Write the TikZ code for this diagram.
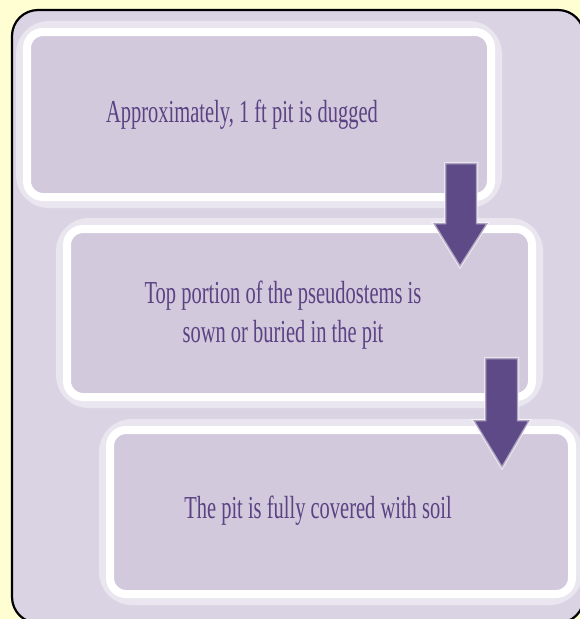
\documentclass[tikz,border=0pt]{standalone}
\usepackage{fontspec}
\usepackage{tikz}
\newfontfamily\stepfont[FakeStretch=0.64]{Liberation Serif}
\definecolor{paper}{HTML}{FFFDD2}
\definecolor{framefill}{HTML}{D9D3E3}
\definecolor{boxfill}{HTML}{D2C9DC}
\definecolor{steptext}{HTML}{5A4283}
\definecolor{arrowfill}{HTML}{5E4A86}
\tikzset{
  glow/.style={draw=white, draw opacity=0.45, line width=22pt, rounded corners=22pt},
  stepbox/.style={fill=boxfill, draw=white, line width=8pt, rounded corners=16pt},
  steplabel/.style={text=steptext, font=\stepfont\fontsize{32}{39}\selectfont, anchor=base, inner sep=0pt, align=center},
  downarrow/.style={fill=arrowfill, draw=white, draw opacity=0.5, line width=2.5pt, line join=miter}
}
\begin{document}
\begin{tikzpicture}[x=1pt, y=-1pt]
                \useasboundingbox (0,0) rectangle (580,619);
                % Draw the background
                \fill[paper] (0,0) rectangle (580,619);
                \draw[fill=framefill, line width=2.2pt, rounded corners=26pt] (12,10) rectangle (584,623);
                % Draw the boxes
                \draw[glow] (27,32) rectangle (491,197);
                \draw[stepbox] (27,32) rectangle (491,197);
                \draw[glow] (67,229) rectangle (532,397);
                \draw[stepbox] (67,229) rectangle (532,397);
                \draw[glow] (110,430) rectangle (572,594);
                \draw[stepbox] (110,430) rectangle (572,594);
                % Draw the arrows
                \draw[downarrow] (445,163) -- (477,163) -- (477,223) -- (488,223) -- (460,267) -- (433,223) -- (445,223) -- cycle;
                \draw[downarrow] (485,358) -- (518,358) -- (518,420) -- (530,420) -- (502,468) -- (473,420) -- (485,420) -- cycle;
                % Draw the texts
                \node[steplabel] (dig) at (242,122) {Approximately, 1 ft pit is dugged};
                \node[steplabel] (sow) at (283,342) {Top portion of the pseudostems is\\sown or buried in the pit};
                \node[steplabel] (cover) at (318,518) {The pit is fully covered with soil};
            \end{tikzpicture}
\end{document}
